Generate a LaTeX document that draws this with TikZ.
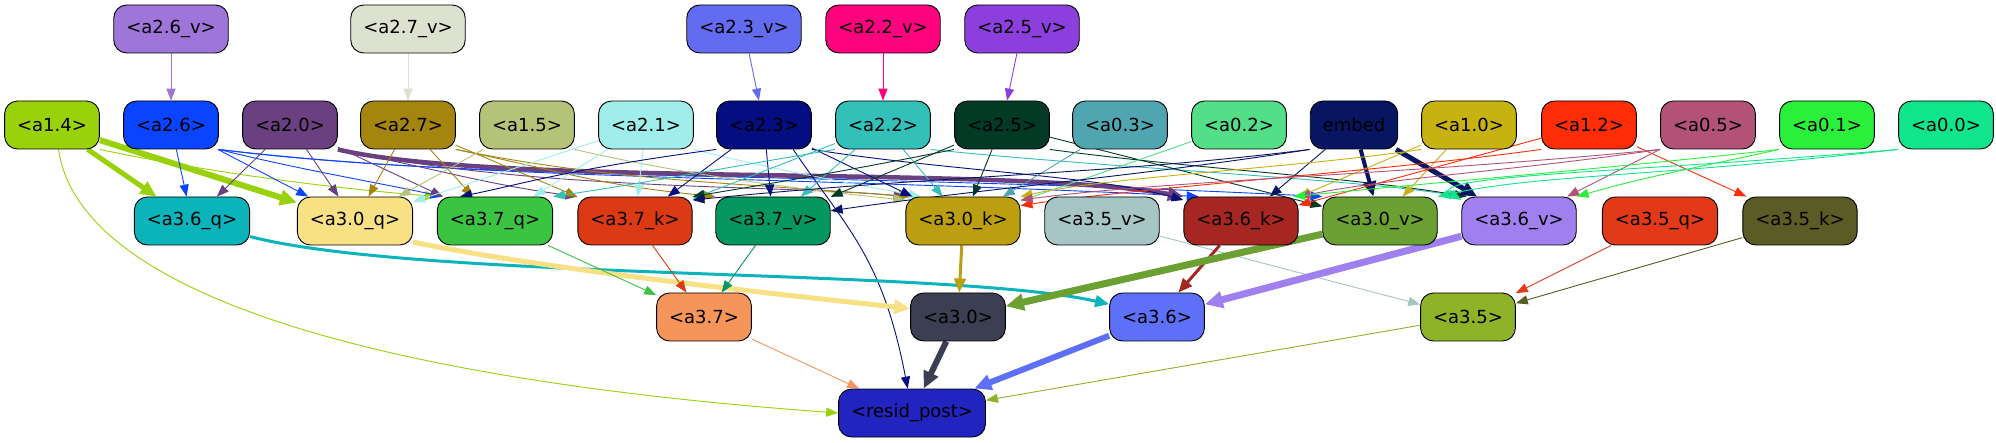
\documentclass[tikz,border=0pt]{standalone}
\usepackage{fontspec}
\setmainfont{DejaVu Sans}
\usetikzlibrary{arrows.meta}
\pgfdeclarelayer{edges}
\pgfsetlayers{edges,main}
\definecolor{ca26v}{HTML}{9F75D9}\definecolor{ca27v}{HTML}{DDE1CF}\definecolor{ca23v}{HTML}{636BF0}
\definecolor{ca22v}{HTML}{FE037D}\definecolor{ca25v}{HTML}{8C3FDC}
\definecolor{ca14}{HTML}{99D10A}\definecolor{ca26}{HTML}{0A44FF}\definecolor{ca20}{HTML}{6A4080}
\definecolor{ca27}{HTML}{A38510}\definecolor{ca15}{HTML}{B5C378}\definecolor{ca21}{HTML}{A0EEEC}
\definecolor{ca23}{HTML}{050E80}\definecolor{ca22}{HTML}{33C0B9}\definecolor{ca25}{HTML}{023A25}
\definecolor{ca03}{HTML}{4FA6B1}\definecolor{ca02}{HTML}{52DF88}\definecolor{cembed}{HTML}{071563}
\definecolor{ca10}{HTML}{C6B312}\definecolor{ca12}{HTML}{FF2D05}\definecolor{ca05}{HTML}{B15276}
\definecolor{ca01}{HTML}{2AF03C}\definecolor{ca00}{HTML}{10E58D}
\definecolor{ca36q}{HTML}{0BB3BA}\definecolor{ca30q}{HTML}{F8E084}\definecolor{ca37q}{HTML}{3BC441}
\definecolor{ca37k}{HTML}{DC3A14}\definecolor{ca37v}{HTML}{069760}\definecolor{ca30k}{HTML}{BC9F10}
\definecolor{ca35v}{HTML}{A8C5C5}\definecolor{ca36k}{HTML}{A62722}\definecolor{ca30v}{HTML}{6BA033}
\definecolor{ca36v}{HTML}{A07FEE}\definecolor{ca35q}{HTML}{E23A18}\definecolor{ca35k}{HTML}{5B5B25}
\definecolor{ca37}{HTML}{F5955A}\definecolor{ca30}{HTML}{3C3E51}\definecolor{ca36}{HTML}{5F70F8}
\definecolor{ca35}{HTML}{8EB228}\definecolor{cres}{HTML}{2124BE}
\begin{document}
\begin{tikzpicture}[x=1pt,y=1pt,
  box/.style={draw=black, line width=0.9pt, rounded corners=13pt, minimum height=48pt,
    inner xsep=12.5pt, font=\fontsize{18}{21}\selectfont, text=black},
  e/.style={-{Triangle[length=11pt 1, width=8pt 1.2]}, line width=0.9pt}]
\useasboundingbox (0,0) rectangle (1996,-443);
% row 1
\node[box,fill=ca26v] (a26v) at (171,-29) {<a2.6\_v>};
\node[box,fill=ca27v] (a27v) at (408,-29) {<a2.7\_v>};
\node[box,fill=ca23v] (a23v) at (744,-29) {<a2.3\_v>};
\node[box,fill=ca22v] (a22v) at (883,-29) {<a2.2\_v>};
\node[box,fill=ca25v] (a25v) at (1022,-29) {<a2.5\_v>};
% row 2
\node[box,fill=ca14] (a14) at (52,-125) {<a1.4>};
\node[box,fill=ca26] (a26) at (171,-125) {<a2.6>};
\node[box,fill=ca20] (a20) at (290,-125) {<a2.0>};
\node[box,fill=ca27] (a27) at (408,-125) {<a2.7>};
\node[box,fill=ca15] (a15) at (527,-125) {<a1.5>};
\node[box,fill=ca21] (a21) at (646,-125) {<a2.1>};
\node[box,fill=ca23] (a23) at (764,-125) {<a2.3>};
\node[box,fill=ca22] (a22) at (883,-125) {<a2.2>};
\node[box,fill=ca25] (a25) at (1002,-125) {<a2.5>};
\node[box,fill=ca03] (a03) at (1120,-125) {<a0.3>};
\node[box,fill=ca02] (a02) at (1239,-125) {<a0.2>};
\node[box,fill=cembed] (embed) at (1354,-125) {embed};
\node[box,fill=ca10] (a10) at (1469,-125) {<a1.0>};
\node[box,fill=ca12] (a12) at (1589,-125) {<a1.2>};
\node[box,fill=ca05] (a05) at (1708,-125) {<a0.5>};
\node[box,fill=ca01] (a01) at (1827,-125) {<a0.1>};
\node[box,fill=ca00] (a00) at (1946,-125) {<a0.0>};
% row 3
\node[box,fill=ca36q] (a36q) at (192,-221) {<a3.6\_q>};
\node[box,fill=ca30q] (a30q) at (355,-221) {<a3.0\_q>};
\node[box,fill=ca37q] (a37q) at (495,-221) {<a3.7\_q>};
\node[box,fill=ca37k] (a37k) at (635,-221) {<a3.7\_k>};
\node[box,fill=ca37v] (a37v) at (773,-221) {<a3.7\_v>};
\node[box,fill=ca30k] (a30k) at (963,-221) {<a3.0\_k>};
\node[box,fill=ca35v] (a35v) at (1102,-221) {<a3.5\_v>};
\node[box,fill=ca36k] (a36k) at (1241,-221) {<a3.6\_k>};
\node[box,fill=ca30v] (a30v) at (1380,-221) {<a3.0\_v>};
\node[box,fill=ca36v] (a36v) at (1519,-221) {<a3.6\_v>};
\node[box,fill=ca35q] (a35q) at (1660,-221) {<a3.5\_q>};
\node[box,fill=ca35k] (a35k) at (1800,-221) {<a3.5\_k>};
% row 4
\node[box,fill=ca37] (a37) at (704,-317) {<a3.7>};
\node[box,fill=ca30] (a30) at (958,-317) {<a3.0>};
\node[box,fill=ca36] (a36) at (1157,-317) {<a3.6>};
\node[box,fill=ca35] (a35) at (1468,-317) {<a3.5>};
% row 5
\node[box,fill=cres] (resid) at (912,-413) {<resid\_post>};
\begin{pgfonlayer}{edges}
\fill[white] (0,0) rectangle (1996,-443);
% row1 -> row2
\draw[e,ca26v] (a26v) -- (a26);
\draw[e,ca27v] (a27v) -- (a27);
\draw[e,ca23v] (a23v) -- (a23);
\draw[e,ca22v] (a22v) -- (a22);
\draw[e,ca25v] (a25v) -- (a25);
% a1.4
\draw[e,ca14,line width=5pt] (a14) -- (a36q);
\draw[e,ca14,line width=6pt] (a14) -- (a30q);
\draw[e,ca14] (a14.south east) .. controls +(120,-25) and +(-100,8) .. (a37q.north west);
\draw[e,ca14] (a14.-75) .. controls +(20,-140) and +(-480,35) .. (resid.west);
% a2.6
\draw[e,ca26] (a26) -- (a36q);
\draw[e,ca26] (a26) -- (a30q);
\draw[e,ca26] (a26.south east) .. controls +(80,-20) and +(-70,15) .. (a37q.155);
\draw[e,ca26] (a26.south east) .. controls +(250,-30) and +(-400,20) .. (a36k.150);
\draw[e,ca26] (a26.south east) .. controls +(250,-32) and +(-500,25) .. (a30v.north west);
% a2.0
\draw[e,ca20] (a20) -- (a36q);
\draw[e,ca20] (a20) -- (a30q);
\draw[e,ca20] (a20) -- (a37q);
\draw[e,ca20] (a20.south east) .. controls +(100,-20) and +(-90,12) .. (a37k.north west);
\draw[e,ca20,line width=4.5pt] (a20.south east) .. controls +(160,-38) and +(-183,32) .. (a36k.north west);
\draw[e,ca20] (a20.south east) .. controls +(200,-42) and +(-125,12) .. (a30k.north west);
% a2.7
\draw[e,ca27] (a27) -- (a30q);
\draw[e,ca27] (a27) -- (a37q);
\draw[e,ca27] (a27) -- (a37k);
\draw[e,ca27] (a27.south east) .. controls +(150,-30) and +(-200,15) .. (a30k.155);
\draw[e,ca27] (a27.south east) .. controls +(120,-25) and +(-120,12) .. (a37v.north west);
% a1.5
\draw[e,ca15] (a15) -- (a30q);
\draw[e,ca15] (a15.south east) .. controls +(120,-28) and +(-80,8) .. (a30k.160);
% a2.1
\draw[e,ca21] (a21) -- (a30q);
\draw[e,ca21] (a21) -- (a37q);
\draw[e,ca21] (a21) -- (a37k);
\draw[e,ca21] (a21.south east) .. controls +(80,-20) and +(-80,15) .. (a30k.150);
% a2.3
\draw[e,ca23] (a23.south west) .. controls +(-150,-20) and +(60,12) .. (a37q.145);
\draw[e,ca23] (a23) -- (a37k);
\draw[e,ca23] (a23) -- (a37v);
\draw[e,ca23] (a23) -- (a30k);
\draw[e,ca23] (a23.south east) .. controls +(140,-22) and +(-90,25) .. (a36k.160);
\draw[e,ca23] (a23.-40) .. controls +(55,-80) and +(-25,130) .. (resid.100);
% a2.2
\draw[e,ca22] (a22.south west) .. controls +(-120,-20) and +(100,15) .. (a37q.north east);
\draw[e,ca22] (a22) -- (a37k);
\draw[e,ca22] (a22) -- (a37v);
\draw[e,ca22] (a22) -- (a30k);
\draw[e,ca22] (a22.south east) .. controls +(170,-18) and +(-110,18) .. (a36v.north west);
% a2.5
\draw[e,ca25] (a25.south west) .. controls +(-100,-20) and +(90,15) .. (a37k.north east);
\draw[e,ca25] (a25) -- (a37v);
\draw[e,ca25] (a25) -- (a30k);
\draw[e,ca25] (a25) -- (a30v);
\draw[e,ca25] (a25.south east) .. controls +(150,-20) and +(-120,20) .. (a36v.155);
% a0.3, a0.2
\draw[e,ca03] (a03) -- (a30k);
\draw[e,ca02] (a02) -- (a30k);
% embed
\draw[e,cembed] (embed.south west) .. controls +(-200,-25) and +(250,25) .. (a37k.20);
\draw[e,cembed] (embed.south west) .. controls +(-180,-28) and +(150,22) .. (a37v.10);
\draw[e,cembed] (embed) -- (a36k);
\draw[e,cembed,line width=4pt] (embed) -- (a30v);
\draw[e,cembed,line width=5pt] (embed) -- (a36v);
% a1.0
\draw[e,ca10] (a10.south west) .. controls +(-120,-18) and +(90,20) .. (a30k.north east);
\draw[e,ca10] (a10) -- (a36k);
\draw[e,ca10] (a10) -- (a30v);
% a1.2
\draw[e,ca12] (a12.south west) .. controls +(-160,-22) and +(120,18) .. (a30k.15);
\draw[e,ca12] (a12) -- (a36k);
\draw[e,ca12] (a12) -- (a35k);
% a0.5
\draw[e,ca05] (a05) -- (a36v);
\draw[e,ca05] (a05.south west) .. controls +(-150,-22) and +(100,20) .. (a36k.north east);
\draw[e,ca05] (a05.south west) .. controls +(-250,-25) and +(150,20) .. (a30k.20);
% a0.1
\draw[e,ca01] (a01.south west) .. controls +(-200,-22) and +(150,15) .. (a36k.25);
\draw[e,ca01] (a01.south west) .. controls +(-100,-22) and +(70,20) .. (a36v.north east);
% a0.0
\draw[e,ca00] (a00.south west) .. controls +(-250,-22) and +(-40,25) .. (a36v.160);
\draw[e,ca00] (a00.south west) .. controls +(-250,-28) and +(100,22) .. (a30v.north east);
% row3 -> row4
\draw[e,ca36q,line width=3pt] (a36q.-15) .. controls +(170,-44) and +(-160,36) .. (a36.165);
\draw[e,ca30q,line width=5pt] (a30q.-20) .. controls +(137,-28) and +(-130,14) .. (a30.170);
\draw[e,ca37q] (a37q) -- (a37);
\draw[e,ca37k] (a37k) -- (a37);
\draw[e,ca37v] (a37v) -- (a37);
\draw[e,ca30k,line width=3pt] (a30k) -- (a30);
\draw[e,ca35v] (a35v) -- (a35);
\draw[e,ca36k,line width=3pt] (a36k) -- (a36);
\draw[e,ca30v,line width=7pt] (a30v) -- (a30);
\draw[e,ca36v,line width=7pt] (a36v) -- (a36);
\draw[e,ca35q] (a35q) -- (a35);
\draw[e,ca35k] (a35k) -- (a35);
% row4 -> resid_post
\draw[e,ca37] (a37) -- (resid);
\draw[e,ca30,line width=6pt] (a30) -- (resid);
\draw[e,ca36,line width=6pt] (a36) -- (resid);
\draw[e,ca35] (a35) -- (resid);
\end{pgfonlayer}
\end{tikzpicture}
\end{document}
